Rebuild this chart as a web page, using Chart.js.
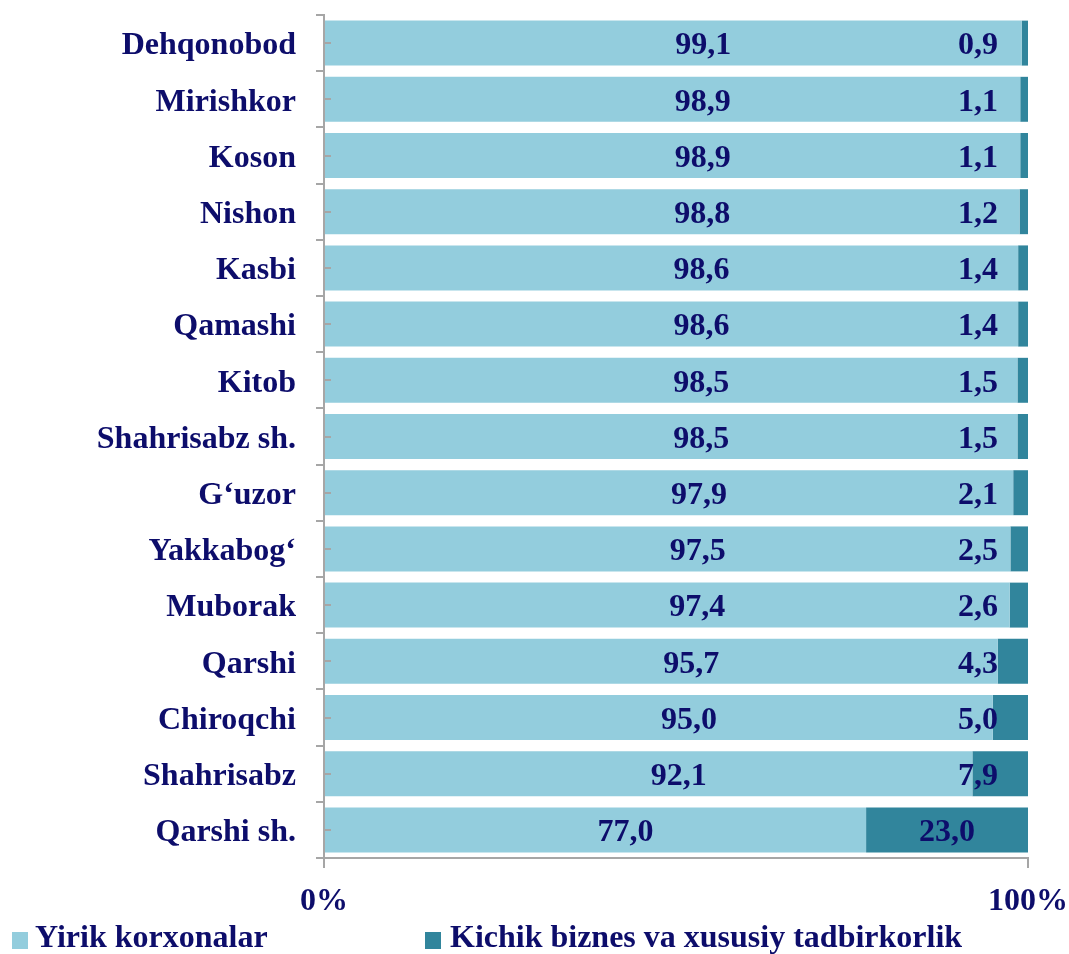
<!DOCTYPE html>
<html>
<head>
<meta charset="utf-8">
<script src="https://cdn.jsdelivr.net/npm/chart.js@4.4.1/dist/chart.umd.min.js"></script>
<style>
  body { margin: 0; background: #fff; }
  #wrap { position: relative; width: 1069px; height: 954px; }
  .leg { position: absolute; top: 920px; font: bold 32px "Liberation Serif", "Times New Roman", serif; color: #0d0d6b; line-height: 32px; white-space: nowrap; }
  .box { position: absolute; top: 932px; width: 16px; height: 17px; }
</style>
</head>
<body>
<div id="wrap">
  <canvas id="chart" width="1069" height="954"></canvas>
  <div class="box" style="left:12px;background:#93cddd"></div>
  <div class="leg" style="left:35px">Yirik korxonalar</div>
  <div class="box" style="left:425px;background:#31859c"></div>
  <div class="leg" style="left:450px">Kichik biznes va xususiy tadbirkorlik</div>
</div>
<script>
// Districts, top to bottom
const districts = ["Dehqonobod", "Mirishkor", "Koson", "Nishon", "Kasbi", "Qamashi", "Kitob",
  "Shahrisabz sh.", "G‘uzor", "Yakkabog‘", "Muborak", "Qarshi", "Chiroqchi", "Shahrisabz", "Qarshi sh."];
// share of large enterprises, %
const yirik = [99.1, 98.9, 98.9, 98.8, 98.6, 98.6, 98.5, 98.5, 97.9, 97.5, 97.4, 95.7, 95.0, 92.1, 77.0];
// share of small business, %
const kichik = [0.9, 1.1, 1.1, 1.2, 1.4, 1.4, 1.5, 1.5, 2.1, 2.5, 2.6, 4.3, 5.0, 7.9, 23.0];
const xTicks = [0, 100];

const navy = '#0d0d6b';
const font = '"Liberation Serif", "Times New Roman", serif';

// draws value labels on the bars
const valueLabels = {
  id: 'valueLabels',
  afterDatasetsDraw(chart) {
    const ctx = chart.ctx;
    const right = chart.chartArea.right;
    ctx.save();
    ctx.font = 'bold 32px ' + font;
    ctx.fillStyle = navy;
    ctx.textAlign = 'center';
    ctx.textBaseline = 'middle';
    chart.data.datasets.forEach((ds, i) => {
      chart.getDatasetMeta(i).data.forEach((bar, j) => {
        const mid = (bar.x + bar.base) / 2;
        const x = i === 0 ? mid + 30 : Math.min(mid, right - 50);
        ctx.fillText(ds.data[j].toFixed(1).replace('.', ','), x, bar.y + 3);
      });
    });
    ctx.restore();
  }
};

// small marks at the category centres, right of the y axis
const midTicks = {
  id: 'midTicks',
  afterDraw(chart) {
    const ctx = chart.ctx;
    const y = chart.scales.y;
    ctx.save();
    ctx.strokeStyle = '#a6a6a6';
    ctx.lineWidth = 2;
    districts.forEach((d, i) => {
      const p = Math.round(y.getPixelForValue(i));
      ctx.beginPath();
      ctx.moveTo(y.right, p);
      ctx.lineTo(y.right + 7, p);
      ctx.stroke();
    });
    ctx.restore();
  }
};

new Chart(document.getElementById('chart').getContext('2d'), {
  type: 'bar',
  data: {
    labels: districts,
    datasets: [
      { label: 'Yirik korxonalar', data: yirik, backgroundColor: '#93cddd' },
      { label: 'Kichik biznes va xususiy tadbirkorlik', data: kichik, backgroundColor: '#31859c' }
    ]
  },
  options: {
    indexAxis: 'y',
    responsive: false,
    animation: false,
    layout: { padding: { top: 15, right: 41, bottom: 0, left: 0 } },
    barPercentage: 0.8,
    categoryPercentage: 1,
    plugins: { legend: { display: false }, tooltip: { enabled: false } },
    scales: {
      x: {
        stacked: true,
        min: 0,
        max: 100,
        afterBuildTicks: s => { s.ticks = xTicks.map(v => ({ value: v })); },
        afterFit: s => { s.height = 96; s.paddingLeft = 0; s.paddingRight = 0; },
        border: { color: '#a6a6a6', width: 2 },
        grid: { drawOnChartArea: false, tickLength: 10, color: '#a6a6a6', lineWidth: 2 },
        ticks: { padding: 15, color: navy, font: { family: font, size: 32, weight: 'bold' }, callback: v => v + '%', maxRotation: 0 }
      },
      y: {
        stacked: true,
        afterFit: s => { s.width = 324; s.paddingTop = 0; s.paddingBottom = 0; },
        border: { color: '#a6a6a6', width: 2 },
        grid: { drawOnChartArea: false, offset: true, tickLength: 8, color: '#a6a6a6', lineWidth: 2 },
        ticks: { padding: 20, labelOffset: 3, color: navy, font: { family: font, size: 32, weight: 'bold' } }
      }
    }
  },
  plugins: [valueLabels, midTicks]
});
</script>
</body>
</html>
